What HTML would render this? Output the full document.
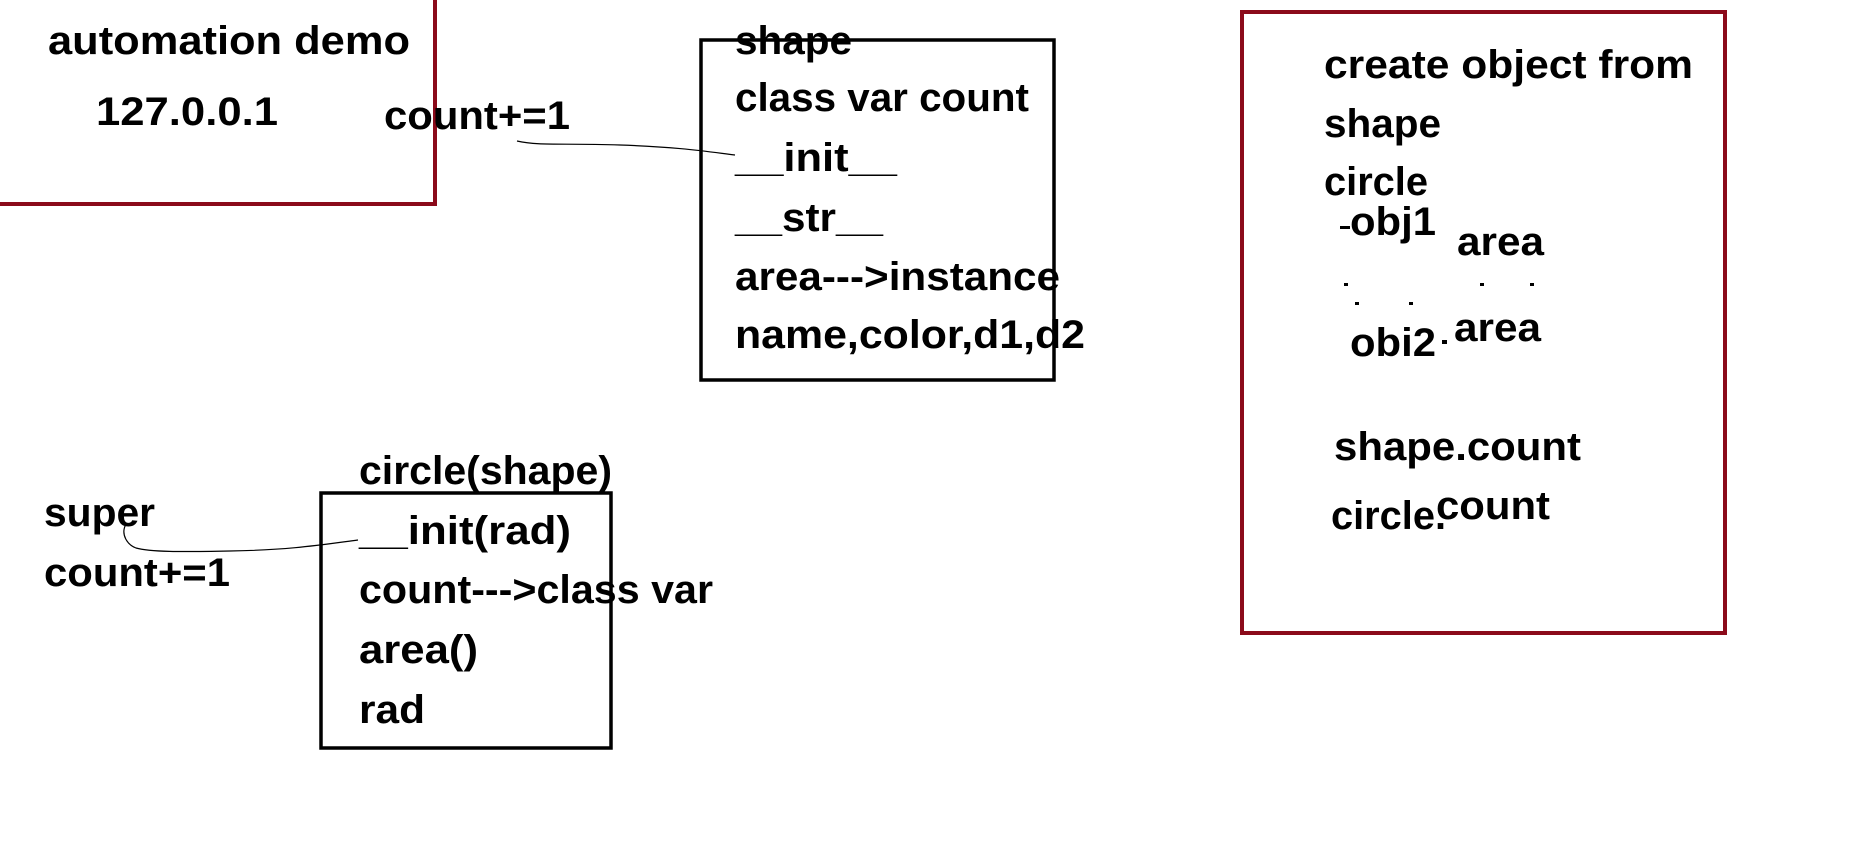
<!DOCTYPE html>
<html><head><meta charset="utf-8"><style>
html,body{margin:0;padding:0;background:#fff;}
svg{display:block}
text{font-family:"Liberation Sans",sans-serif;font-weight:bold;font-size:40px;fill:#000}
</style></head><body>
<svg width="1865" height="867" viewBox="0 0 1865 867" xmlns="http://www.w3.org/2000/svg">
<rect width="1865" height="867" fill="#fff"/>
<polyline points="435,-5 435,204 -5,204" fill="none" stroke="#8b0a1a" stroke-width="4"/>
<text x="48" y="54" textLength="362" lengthAdjust="spacingAndGlyphs">automation demo</text>
<text x="96" y="125" textLength="182" lengthAdjust="spacingAndGlyphs">127.0.0.1</text>
<text x="384" y="129" textLength="186" lengthAdjust="spacingAndGlyphs">count+=1</text>
<g transform="translate(-4,0)">
<rect x="705" y="40" width="353" height="340" fill="none" stroke="#000" stroke-width="3.5"/>
<text x="739" y="54" textLength="117" lengthAdjust="spacingAndGlyphs">shape</text>
<text x="739" y="111" textLength="294" lengthAdjust="spacingAndGlyphs">class var count</text>
<text x="739" y="171" textLength="162" lengthAdjust="spacingAndGlyphs">__init__</text>
<text x="739" y="231" textLength="148" lengthAdjust="spacingAndGlyphs">__str__</text>
<text x="739" y="290" textLength="325" lengthAdjust="spacingAndGlyphs">area---&gt;instance</text>
<text x="739" y="348" textLength="350" lengthAdjust="spacingAndGlyphs">name,color,d1,d2</text>
</g>
<path d="M517,141 C540,146 560,143 620,145 C680,147 710,152 735,155" fill="none" stroke="#000" stroke-width="1.2"/>
<g transform="translate(-2,0)">
<rect x="323" y="493" width="290" height="255" fill="none" stroke="#000" stroke-width="3.5"/>
<text x="361" y="484" textLength="253" lengthAdjust="spacingAndGlyphs">circle(shape)</text>
<text x="361" y="544" textLength="212" lengthAdjust="spacingAndGlyphs">__init(rad)</text>
<text x="361" y="603" textLength="354" lengthAdjust="spacingAndGlyphs">count---&gt;class var</text>
<text x="361" y="663" textLength="119" lengthAdjust="spacingAndGlyphs">area()</text>
<text x="361" y="723" textLength="66" lengthAdjust="spacingAndGlyphs">rad</text>
</g>
<text x="44" y="526" textLength="111" lengthAdjust="spacingAndGlyphs">super</text>
<text x="44" y="586" textLength="186" lengthAdjust="spacingAndGlyphs">count+=1</text>
<path d="M358,540 C320,545 290,550 230,551 C180,552 150,552 136,548 C128,545 120,535 126,524" fill="none" stroke="#000" stroke-width="1.2"/>
<g transform="translate(-6,0)">
<rect x="1248" y="12" width="483" height="621" fill="none" stroke="#8b0a1a" stroke-width="4"/>
<text x="1330" y="78" textLength="369" lengthAdjust="spacingAndGlyphs">create object from</text>
<text x="1330" y="137" textLength="117" lengthAdjust="spacingAndGlyphs">shape</text>
<text x="1330" y="195" textLength="104" lengthAdjust="spacingAndGlyphs">circle</text>
<text x="1356" y="235" textLength="86" lengthAdjust="spacingAndGlyphs">obj1</text>
<rect x="1346" y="226" width="10" height="3" fill="#000"/>
<text x="1463" y="255" textLength="87" lengthAdjust="spacingAndGlyphs">area</text>
<rect x="1350" y="283" width="4" height="3" fill="#000"/>
<rect x="1486" y="283" width="4" height="3" fill="#000"/>
<rect x="1536" y="283" width="4" height="3" fill="#000"/>
<rect x="1361" y="302" width="4" height="3" fill="#000"/>
<rect x="1415" y="302" width="4" height="3" fill="#000"/>
<text x="1356" y="356" textLength="86" lengthAdjust="spacingAndGlyphs">obi2</text>
<rect x="1448" y="340" width="5" height="4" fill="#000"/>
<text x="1460" y="341" textLength="87" lengthAdjust="spacingAndGlyphs">area</text>
<text x="1340" y="460" textLength="247" lengthAdjust="spacingAndGlyphs">shape.count</text>
<text x="1337" y="529" textLength="115" lengthAdjust="spacingAndGlyphs">circle.</text>
<text x="1442" y="519" textLength="114" lengthAdjust="spacingAndGlyphs">count</text>
</g>
</svg>
</body></html>
